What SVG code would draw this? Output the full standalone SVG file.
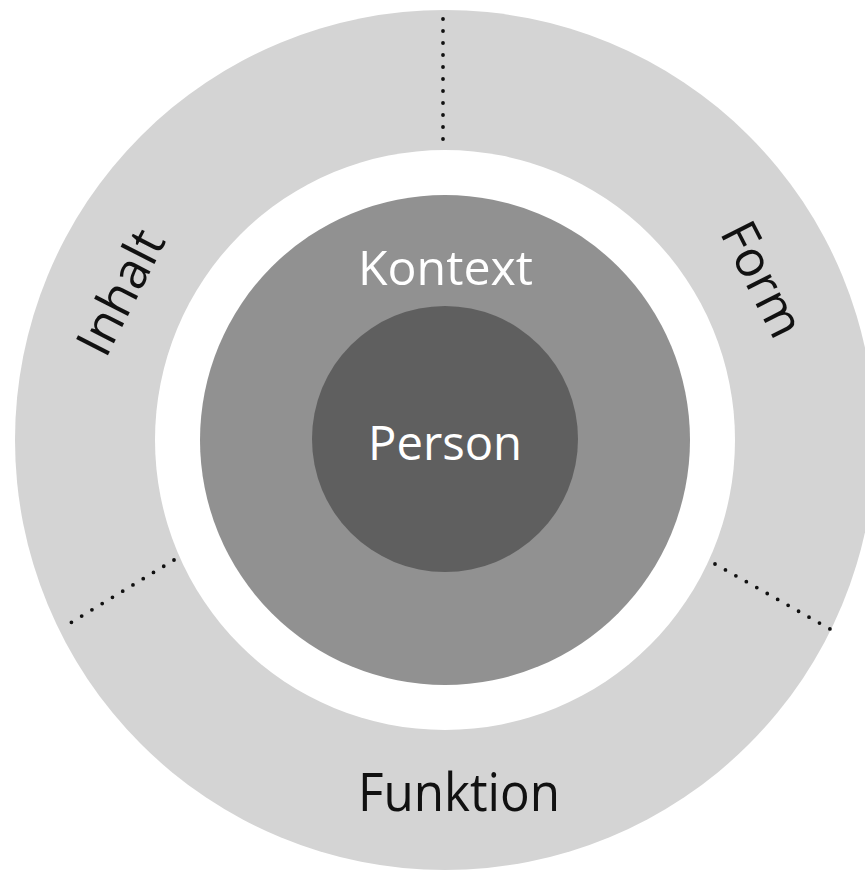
<svg xmlns="http://www.w3.org/2000/svg" width="865" height="870" viewBox="0 0 865 870">
  <style>
    .lbl { font-family: "Open Sans", "Noto Sans", sans-serif; text-anchor: middle; }
    .dark { fill: #111111; }
    .light { fill: #ffffff; }
    .dots { stroke: #111111; stroke-width: 3.8; stroke-linecap: round; stroke-dasharray: 0 12; fill: none; }
  </style>
  <rect width="865" height="870" fill="#ffffff"/>
  <g id="outer-ring">
    <circle cx="445" cy="440" r="430" fill="#d4d4d4"/>
    <circle cx="445" cy="440" r="290" fill="#ffffff"/>
  </g>
  <g id="connectors">
    <line class="dots" x1="443" y1="19" x2="443" y2="151"/>
    <line class="dots" x1="174" y1="560" x2="62" y2="628"/>
    <line class="dots" x1="715" y1="564" x2="830" y2="629"/>
  </g>
  <g id="inhalt">
    <text class="lbl dark" font-size="50" transform="translate(136,300) rotate(-63)">Inhalt</text>
  </g>
  <g id="form">
    <text class="lbl dark" font-size="50" transform="translate(747,287) rotate(63)">Form</text>
  </g>
  <g id="funktion">
    <text class="lbl dark" x="459" y="811" font-size="53" textLength="202" lengthAdjust="spacingAndGlyphs">Funktion</text>
  </g>
  <g id="kontext">
    <circle cx="445" cy="440" r="245" fill="#919191"/>
    <text class="lbl light" x="445.5" y="285" font-size="48" textLength="175" lengthAdjust="spacingAndGlyphs">Kontext</text>
  </g>
  <g id="person">
    <circle cx="445" cy="439" r="133" fill="#5f5f5f"/>
    <text class="lbl light" x="445" y="460" font-size="48" textLength="154" lengthAdjust="spacingAndGlyphs">Person</text>
  </g>
</svg>
